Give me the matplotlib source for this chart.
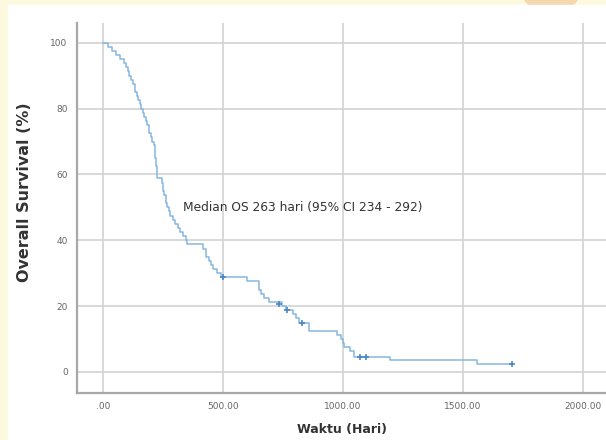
import matplotlib
matplotlib.use("Agg")
import matplotlib.pyplot as plt
from matplotlib.patches import Rectangle, Circle

# Kaplan-Meier steps (days, survival %)
time_days = [0, 20, 37, 55, 70, 86, 95, 102, 110, 118, 126, 133, 140, 146, 152,
             159, 166, 172, 178, 184, 191, 198, 205, 212, 215, 218, 220, 223, 246,
             250, 255, 262, 268, 274, 280, 290, 300, 312, 322, 333, 344, 350, 418,
             430, 440, 449, 460, 473, 490, 600, 650, 660, 672, 690, 745, 762, 790,
             803, 815, 860, 975, 990, 1000, 1005, 1030, 1045, 1195, 1560, 1705]
survival = [100, 98.8, 97.5, 96.3, 95.0, 93.8, 92.5, 91.3, 90.0, 88.8, 87.5, 85.0,
            83.8, 82.5, 81.3, 80.0, 78.8, 77.5, 76.3, 75.0, 72.5, 71.3, 70.0, 68.8,
            67.5, 65.0, 62.5, 58.8, 57.5, 55.0, 53.8, 51.3, 50.0, 48.8, 47.5, 46.3,
            45.0, 43.8, 42.5, 41.3, 40.0, 38.8, 37.5, 35.0, 33.8, 32.5, 31.3, 30.0,
            28.8, 27.5, 25.0, 23.8, 22.5, 21.3, 20.0, 18.8, 17.5, 16.3, 15.0, 12.5,
            11.3, 10.0, 8.8, 7.5, 6.3, 4.4, 3.5, 2.5, 2.5]

# censored observations
censor_days = [500, 735, 765, 830, 1070, 1095, 1705]
censor_surv = [28.8, 20.5, 18.8, 15.0, 4.4, 4.4, 2.5]

x_ticks = [0, 500, 1000, 1500, 2000]
x_labels = [".00", "500.00", "1000.00", "1500.00", "2000.00"]
y_ticks = [0, 20, 40, 60, 80, 100]

fig = plt.figure(figsize=(6.06, 4.4), dpi=100)
fig.patch.set_facecolor("#fdf9df")

# page background: cream border, orange tab, white panel
bg = fig.add_axes([0, 0, 1, 1], zorder=-1)
bg.set_xlim(0, 606)
bg.set_ylim(440, 0)
bg.axis("off")
bg.add_patch(Circle((551, -20), 33, color="#f6d8b0", zorder=1))
bg.add_patch(Rectangle((8, 5), 600, 440, color="white", zorder=2))

ax = fig.add_axes([77.4 / 606, 47.3 / 440, 1 - 77.4 / 606, (417 - 47.3) / 440])
ax.set_facecolor("white")

ax.step(time_days, survival, where="post", color="#86b6e0", lw=1.1, zorder=3)
ax.plot(censor_days, censor_surv, "+", color="#4a86c5", ms=4.5, mew=1.2, zorder=4)

ax.text(333, 50, "Median OS 263 hari (95% CI 234 - 292)", fontsize=8.8,
        color="#333333", va="center", ha="left")

ax.set_xlim(-107, 2096)
ax.set_ylim(-6.3, 106)
ax.set_xticks(x_ticks)
ax.set_xticklabels(x_labels)
ax.set_yticks(y_ticks)
ax.grid(True, color="#d2d2d2", lw=1.2)
ax.set_axisbelow(True)
ax.tick_params(length=0, labelsize=6.5, labelcolor="#666666", pad=7)

for side in ["top", "right"]:
    ax.spines[side].set_visible(False)
for side in ["left", "bottom"]:
    ax.spines[side].set_color("#a8a8a8")
    ax.spines[side].set_linewidth(1.6)

ax.set_xlabel("Waktu (Hari)", fontsize=9, fontweight="bold", color="#333333", labelpad=8)
ax.set_ylabel("Overall Survival (%)", fontsize=11.5, fontweight="bold", color="#333333")
ax.yaxis.set_label_coords(-0.086, 0.543)

fig.savefig("out.png", dpi=100, facecolor=fig.get_facecolor())
